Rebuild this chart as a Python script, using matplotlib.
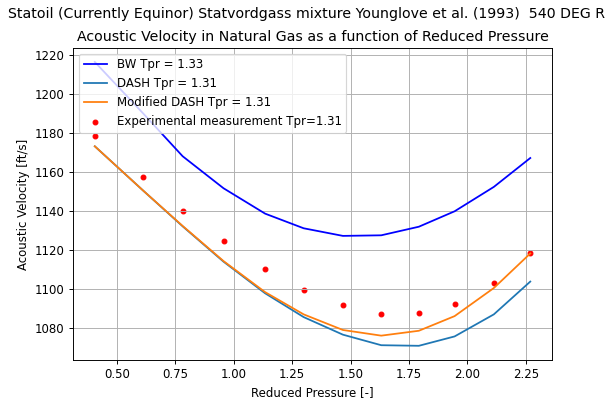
import matplotlib
matplotlib.use("Agg")
import matplotlib.pyplot as plt

# reduced pressure points
ppr = [0.405, 0.613, 0.781, 0.956, 1.134, 1.299, 1.467, 1.631, 1.792, 1.945, 2.113, 2.269]

# acoustic velocity [ft/s]
bw = [1216.5, 1190.0, 1168.2, 1151.8, 1138.8, 1131.3, 1127.4, 1127.7, 1132.1, 1140.0, 1152.5, 1167.3]
dash = [1173.3, 1150.5, 1132.3, 1114.2, 1098.0, 1085.8, 1076.8, 1071.4, 1071.1, 1075.9, 1087.2, 1104.0]
dash_mod = [1173.3, 1150.5, 1132.5, 1114.5, 1098.6, 1087.2, 1079.2, 1076.3, 1078.8, 1086.3, 1100.7, 1118.4]
experimental = [1178.7, 1157.4, 1140.4, 1124.9, 1110.6, 1099.6, 1091.8, 1087.5, 1088.0, 1092.3, 1103.2, 1118.6]

dpi = 85
fig = plt.figure(figsize=(606 / dpi, 398 / dpi), dpi=dpi)
ax = fig.add_axes([0.1205, 0.0955, 0.7905, 0.7845])

ax.plot(ppr, bw, color="blue", label="BW Tpr = 1.33")
ax.plot(ppr, dash, label="DASH Tpr = 1.31")
ax.plot(ppr, dash_mod, label="Modified DASH Tpr = 1.31")
ax.scatter(ppr, experimental, color="red", s=16, label="Experimental measurement Tpr=1.31")

ax.set_title("Acoustic Velocity in Natural Gas as a function of Reduced Pressure")
fig.suptitle("Statoil (Currently Equinor) Statvordgass mixture Younglove et al. (1993)  540 DEG R",
             x=8 / 606, y=1 - 14 / 398, ha="left", va="center")
ax.set_xlabel("Reduced Pressure [-]")
ax.set_ylabel("Acoustic Velocity [ft/s]")
ax.grid(True)
ax.legend(loc="upper left")

fig.savefig("out.png", dpi=dpi)
